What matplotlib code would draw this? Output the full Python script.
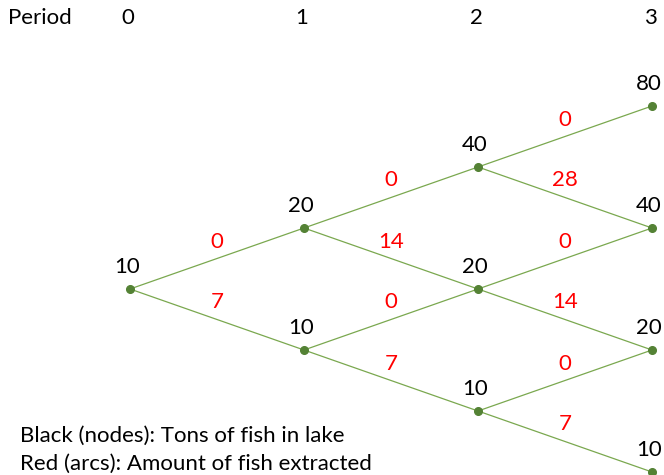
import matplotlib
matplotlib.use("Agg")
import matplotlib.pyplot as plt

plt.rcParams["font.family"] = ["Lato", "DejaVu Sans"]

# periods shown in the header
PERIODS = ["0", "1", "2", "3"]

# tons of fish at each node, period by period (top node first)
STOCK = [
    [10],
    [20, 10],
    [40, 20, 10],
    [80, 40, 20, 10],
]

# fish extracted on each arc: for node j of period t, (up arc, down arc)
EXTRACT = [
    [(0, 7)],
    [(0, 14), (0, 7)],
    [(0, 28), (0, 14), (0, 7)],
]

NOTES = ["Black (nodes): Tons of fish in lake",
         "Red (arcs): Amount of fish extracted"]

LINE_C = "#7aa84f"
NODE_C = "#548235"
FS = 16

W, H = 664, 475
fig = plt.figure(figsize=(W / 100, H / 100), dpi=100)
ax = fig.add_axes([0, 0, 1, 1])
ax.axis("off")

# layout: 174 px per period starting at x=130, 61 px per half-step around y=289
PX, X0 = 174.0, 130.0
PY, Y0 = 61.0, 289.0
ax.set_xlim(-X0 / PX, (W - X0) / PX)
ax.set_ylim((H - Y0) / PY, -Y0 / PY)


def level(t, j):
    # node j of period t (j=0 is the top one)
    return 2 * j - t


for t, row in enumerate(EXTRACT):
    for j, (up, down) in enumerate(row):
        y = level(t, j)
        for dy, val in ((-1, up), (1, down)):
            ax.plot([t, t + 1], [y, y + dy], color=LINE_C, lw=0.9, zorder=1)
            ax.annotate(str(val), (t + 0.5, y + dy / 2), xytext=(0, 17),
                        textcoords="offset pixels", ha="center", va="center",
                        color="red", fontsize=FS)

for t, row in enumerate(STOCK):
    for j, v in enumerate(row):
        y = level(t, j)
        ax.plot(t, y, "o", color=NODE_C, ms=5.5, zorder=3)
        ax.annotate(str(v), (t, y), xytext=(-3, 22), textcoords="offset pixels",
                    ha="center", va="center", color="black", fontsize=FS)

# header row
hy = 1 - 18 / H
ax.text(8 / W, hy, "Period", transform=ax.transAxes, ha="left",
        va="center", fontsize=FS)
for t, p in enumerate(PERIODS):
    ax.annotate(p, (t, hy), xytext=(-2, 0), textcoords="offset pixels",
                xycoords=("data", "axes fraction"), ha="center", va="center",
                fontsize=FS, annotation_clip=False)

for i, note in enumerate(NOTES):
    ax.text(20 / W, 1 - (436 + 28 * i) / H, note, transform=ax.transAxes,
            ha="left", va="center", fontsize=FS)

fig.savefig("out.png", dpi=100)
